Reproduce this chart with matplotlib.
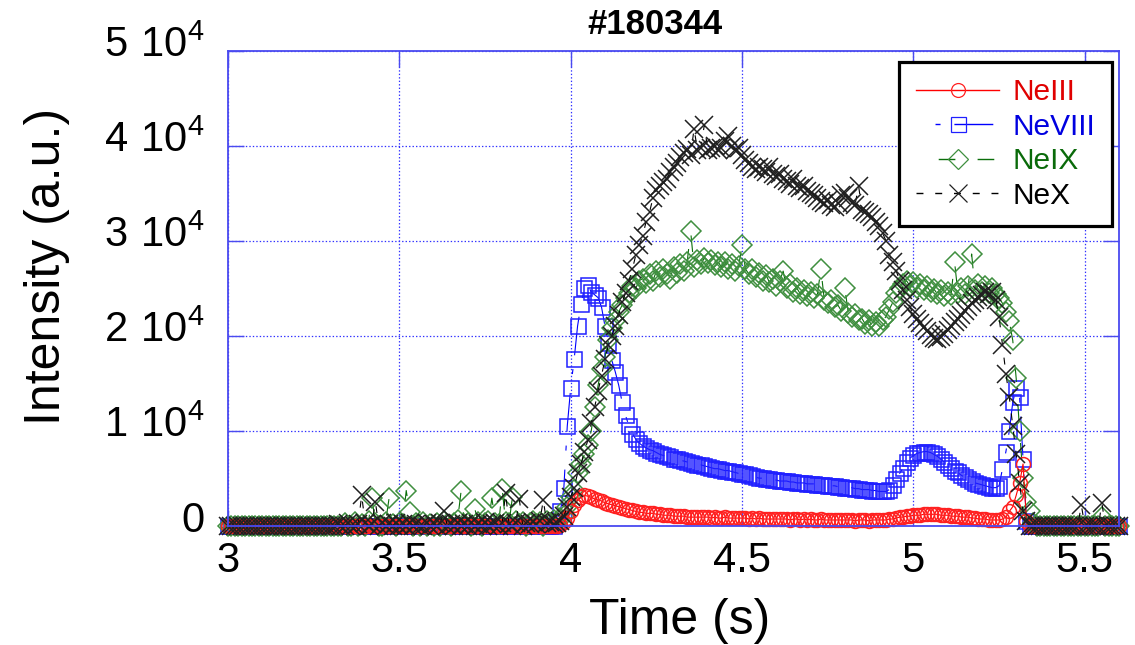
import numpy as np
import matplotlib
matplotlib.use("Agg")
import matplotlib.pyplot as plt
from matplotlib.lines import Line2D
from matplotlib.transforms import ScaledTranslation

plt.rcParams["font.family"] = ["Liberation Sans", "DejaVu Sans"]
plt.rcParams["mathtext.fontset"] = "custom"
plt.rcParams["mathtext.rm"] = "Liberation Sans"
plt.rcParams["lines.scale_dashes"] = False

# sampling: 3.00 s .. 5.60 s, 10 ms
t_start, t_step, n_pts = 3.0, 0.01, 261

# intensities in units of 1e3 a.u., one row per 0.1 s
neIII = [
    0, 0, 0, 0, 0, 0, 0, 0, 0, 0,
    0, 0, 0, 0, 0, 0, 0, 0, 0, 0,
    0, 0, 0, 0, 0, 0, 0, 0, 0, 0,
    0, 0, 0, 0, 0, 0, 0, 0, 0, 0,
    0, 0, 0, 0, 0, 0, 0, 0, 0, 0,
    0, 0, 0, 0, 0, 0, 0, 0, 0, 0,
    0, 0, 0, 0, 0, 0, 0, 0, 0, 0,
    0, 0, 0, 0, 0, 0, 0, 0, 0, 0,
    0, 0, 0, 0, 0, 0, 0, 0, 0, 0,
    0, 0, 0, 0, 0, 0, 0, 0.1, 0.4, 0.8,
    1.5, 2.2, 2.7, 3.0, 3.2, 3.1, 3.0, 2.8, 2.7, 2.6,
    2.4, 2.3, 2.2, 2.1, 2.0, 1.9, 1.8, 1.7, 1.6, 1.5,
    1.4, 1.4, 1.3, 1.3, 1.3, 1.2, 1.2, 1.1, 1.1, 1.1,
    1.0, 1.0, 1.0, 1.0, 0.9, 0.9, 0.9, 0.9, 0.9, 0.9,
    0.9, 0.8, 0.9, 0.8, 0.8, 0.9, 0.8, 0.8, 0.8, 0.8,
    0.8, 0.8, 0.7, 0.8, 0.7, 0.8, 0.7, 0.7, 0.7, 0.7,
    0.7, 0.7, 0.7, 0.7, 0.6, 0.7, 0.7, 0.6, 0.7, 0.6,
    0.7, 0.6, 0.6, 0.7, 0.6, 0.6, 0.6, 0.6, 0.6, 0.6,
    0.6, 0.6, 0.6, 0.5, 0.6, 0.6, 0.6, 0.5, 0.6, 0.6,
    0.6, 0.6, 0.6, 0.7, 0.7, 0.8, 0.9, 0.9, 1.0, 1.0,
    1.1, 1.1, 1.1, 1.2, 1.2, 1.2, 1.2, 1.2, 1.1, 1.1,
    1.1, 1.0, 1.0, 1.0, 0.9, 0.9, 0.9, 0.8, 0.8, 0.7,
    0.7, 0.7, 0.6, 0.6, 0.6, 0.6, 0.7, 0.9, 1.5, 2.0,
    3.2, 4.5, 6.5, 0.5, 0, 0, 0, 0, 0, 0,
    0, 0, 0, 0, 0, 0, 0, 0, 0, 0,
    0, 0, 0, 0, 0, 0, 0, 0, 0, 0,
    0,
]

neVIII = [
    0, 0, 0, 0, 0, 0, 0, 0, 0, 0,
    0, 0, 0, 0, 0, 0, 0, 0, 0, 0,
    0, 0, 0, 0, 0, 0, 0, 0, 0, 0,
    0, 0, 0, 0, 0, 0, 0, 0, 0, 0,
    0, 0, 0, 0, 0, 0, 0, 0, 0, 0,
    0, 0, 0, 0, 0, 0, 0, 0, 0, 0,
    0, 0, 0, 0, 0, 0, 0, 0, 0, 0,
    0, 0, 0, 0, 0, 0, 0, 0, 0, 0,
    0, 0, 0, 0, 0, 0, 0, 0, 0, 0,
    0, 0, 0, 0, 0, 0, 0.3, 1.5, 4.0, 10.5,
    14.5, 17.5, 21.0, 23.3, 25.0, 25.3, 24.6, 24.3, 24.0, 23.0,
    21.0, 19.2, 17.4, 16.2, 14.8, 13.0, 11.6, 10.5, 9.7, 9.1,
    8.7, 8.4, 8.2, 8.0, 7.9, 7.7, 7.5, 7.4, 7.3, 7.2,
    7.0, 7.0, 6.9, 6.8, 6.7, 6.6, 6.5, 6.4, 6.4, 6.3,
    6.2, 6.1, 6.0, 6.0, 5.9, 5.8, 5.8, 5.7, 5.6, 5.5,
    5.4, 5.4, 5.3, 5.2, 5.1, 5.0, 5.0, 4.9, 4.9, 4.8,
    4.8, 4.7, 4.7, 4.7, 4.6, 4.6, 4.5, 4.5, 4.5, 4.4,
    4.4, 4.4, 4.3, 4.3, 4.3, 4.2, 4.2, 4.2, 4.1, 4.1,
    4.0, 4.0, 4.0, 3.9, 3.9, 3.8, 3.8, 3.8, 3.7, 3.7,
    3.6, 3.6, 3.6, 3.8, 4.3, 4.9, 5.5, 6.1, 6.7, 7.1,
    7.4, 7.6, 7.7, 7.8, 7.8, 7.7, 7.5, 7.3, 7.0, 6.7,
    6.4, 6.1, 5.8, 5.6, 5.3, 5.1, 4.9, 4.7, 4.5, 4.4,
    4.3, 4.2, 4.1, 4.0, 4.0, 4.2, 6.0, 7.8, 10.0, 13.0,
    14.5, 13.5, 7.0, 0.5, 0, 0, 0, 0, 0, 0,
    0, 0, 0, 0, 0, 0, 0, 0, 0, 0,
    0, 0, 0, 0, 0, 0, 0, 0, 0, 0,
    0,
]

neIX = [
    0, 0, 0, 0, 0, 0, 0, 0, 0, 0,
    0, 0, 0, 0, 0, 0, 0, 0, 0, 0,
    0, 0, 0, 0, 0, 0, 0, 0, 0, 0,
    0, 0, 0, 0, 0.3, 0, 0, 0.4, 0, 0.2,
    0, 0.5, 2.9, 0.3, 0, 0, 0.4, 2.9, 0.2, 0,
    0.3, 0.2, 3.7, 1.4, 0, 0.3, 0, 0.4, 0, 0.2,
    0, 0.3, 0, 0.5, 0.2, 0, 0.3, 0.6, 3.6, 0.2,
    0.3, 0, 1.8, 0.4, 0, 0.3, 0.5, 2.9, 0.3, 0.2,
    3.9, 0.4, 0.3, 3.0, 0.5, 0.2, 0.4, 0, 0.3, 0.5,
    0.2, 0.4, 0, 0.5, 0.3, 0.6, 0.3, 0.8, 1.0, 2.0,
    3.0, 3.8, 5.5, 6.5, 7.5, 8.5, 10.0, 12.5, 14.8, 16.5,
    17.8, 19.5, 20.8, 21.5, 22.5, 23.2, 24.0, 24.5, 25.2, 25.0,
    25.8, 26.0, 25.5, 26.5, 25.8, 26.8, 26.2, 27.0, 26.5, 26.0,
    27.2, 26.6, 27.5, 26.8, 27.8, 31.0, 27.2, 28.0, 27.5, 28.2,
    27.6, 28.0, 27.4, 27.8, 27.2, 27.8, 27.0, 27.5, 26.8, 27.3,
    29.5, 27.0, 26.5, 27.0, 26.2, 26.6, 25.8, 26.4, 25.6, 26.0,
    25.2, 25.8, 26.8, 25.0, 25.4, 24.6, 25.0, 24.4, 24.8, 24.2,
    24.6, 24.0, 24.4, 27.0, 23.8, 23.4, 23.8, 23.0, 23.2, 22.6,
    25.0, 22.4, 22.0, 22.3, 21.6, 21.8, 21.2, 21.6, 21.0, 21.4,
    21.0, 21.6, 22.0, 22.8, 23.5, 24.5, 25.0, 25.4, 25.8, 25.2,
    25.6, 25.0, 25.4, 24.8, 25.2, 24.6, 24.9, 24.4, 24.8, 24.2,
    24.6, 24.3, 27.8, 24.5, 25.0, 24.4, 25.2, 28.6, 24.8, 25.4,
    24.6, 25.2, 24.5, 25.0, 24.4, 24.0, 23.4, 22.5, 21.5, 19.5,
    15.5, 10.0, 5.0, 2.5, 1.5, 0.3, 0, 0, 0, 0,
    0, 0, 0, 0, 0, 0, 0, 0, 0, 0,
    0, 0, 0, 0, 0, 0.9, 0, 0, 0, 0,
    0,
]

neX = [
    0, 0, 0, 0, 0, 0, 0, 0, 0, 0,
    0, 0, 0, 0, 0, 0, 0, 0, 0, 0,
    0, 0, 0, 0, 0, 0, 0, 0, 0, 0,
    0, 0, 0.2, 0, 0, 0.3, 0, 0, 0.2, 3.2,
    0.3, 0, 0.2, 2.5, 0, 0.3, 0, 0.2, 0, 0.3,
    0, 0.2, 0, 0.3, 0, 0.2, 0, 0, 0.3, 0,
    0.2, 0, 0.3, 1.5, 0, 0.2, 0, 0.3, 0, 0.2,
    0, 0.3, 0, 0.2, 0, 0.4, 0, 0.2, 0.3, 0,
    0.3, 3.4, 0.2, 0, 0.3, 2.8, 0, 0.3, 0.2, 0.4,
    0.2, 0.5, 2.7, 0.3, 0.4, 0.2, 0.3, 0.5, 1.0, 2.0,
    3.0, 4.0, 5.5, 6.5, 7.8, 9.0, 10.8, 12.5, 14.2, 15.8,
    17.5, 19.0, 20.0, 21.0, 22.2, 23.5, 24.5, 25.8, 27.0, 28.5,
    29.5, 30.5, 32.0, 33.0, 34.5, 35.3, 35.8, 36.2, 36.5, 37.2,
    37.8, 38.2, 38.8, 39.2, 39.6, 39.0, 41.8, 39.5, 39.8, 42.2,
    39.5, 39.8, 40.0, 39.5, 39.8, 40.5, 41.0, 40.0, 39.5, 39.8,
    39.0, 38.5, 38.2, 37.8, 37.5, 37.8, 37.5, 37.2, 37.8, 37.0,
    36.8, 37.0, 36.5, 36.3, 36.0, 36.5, 35.8, 35.5, 35.8, 35.2,
    35.0, 34.8, 34.5, 34.2, 34.0, 34.3, 33.8, 33.5, 34.0, 34.8,
    35.0, 34.5, 34.0, 33.8, 35.8, 33.2, 33.0, 32.8, 32.5, 32.0,
    31.5, 30.8, 30.0, 28.5, 27.8, 26.8, 25.8, 24.8, 23.8, 23.0,
    22.3, 21.8, 21.3, 20.9, 20.5, 20.1, 19.8, 19.7, 19.9, 20.2,
    20.6, 21.0, 21.4, 21.8, 22.2, 22.6, 23.0, 23.4, 23.8, 24.1,
    24.3, 24.6, 24.4, 24.6, 23.8, 22.0, 19.0, 16.0, 13.5, 10.5,
    7.5, 4.5, 1.5, 0.5, 0, 0, 0, 0, 0, 0,
    0, 0, 0, 0, 0, 0, 0, 0, 0, 2.2,
    0, 0, 0, 0, 0, 2.4, 0, 0, 0, 0,
    0,
]

x_ticks = [3, 3.5, 4, 4.5, 5, 5.5]
x_labels = ["3", "3.5", "4", "4.5", "5", "5.5"]
y_ticks = [0, 1e4, 2e4, 3e4, 4e4, 5e4]
y_labels = ["0"] + [r"$\mathregular{%d\ 10^{4}}$" % k for k in range(1, 6)]

t = np.round(t_start + t_step * np.arange(n_pts), 2)
scale = 1e3

AXBLUE = "#4a4af0"
styles = {
    # name: (data, line colour, marker, marker size, edge colour, dashes, text colour)
    "NeIII": (neIII, "#ff0000", "o", 10.0, "#ff2020", "-", "#e00000"),
    "NeVIII": (neVIII, "#0000ff", "s", 10.8, "#2020ff", (41.6, (3.6, 10, 28, 13.7)), "#0000e0"),
    "NeIX": (neIX, "#0a6e0a", "D", 10.0, "#3f8f3f", (12, (12, 16)), "#0a6a0a"),
    "NeX": (neX, "#000000", "x", 12.5, "#202020", (0, (5, 8.5)), "#000000"),
}
draw_order = ["NeVIII", "NeIX", "NeIII", "NeX"]
legend_order = ["NeIII", "NeVIII", "NeIX", "NeX"]

fig = plt.figure(figsize=(11.35, 6.45), dpi=100)
ax = fig.add_axes([0.2009, 0.1850, 0.7850, 0.7364])

for name in draw_order:
    vals, lc, mk, ms, mec, ls, _ = styles[name]
    ax.plot(t, np.asarray(vals) * scale, color=lc, lw=0.8, linestyle=ls,
            marker=mk, ms=ms, mfc="none", mec=mec, mew=1.1, clip_on=False)

ax.set_xlim(3, 5.6)
ax.set_ylim(0, 5e4)
ax.set_xticks(x_ticks)
ax.set_xticklabels(x_labels)
ax.set_yticks(y_ticks)
ax.set_yticklabels(y_labels)
ax.tick_params(direction="in", length=11.5, width=1, color=AXBLUE,
               top=True, right=True, labelsize=30)
ax.tick_params(axis="y", pad=17)
ax.tick_params(axis="x", pad=11)
# y labels sit a little above their grid lines in the original
shift = ScaledTranslation(0, 9 / 100, fig.dpi_scale_trans)
for lab in ax.get_yticklabels():
    lab.set_transform(lab.get_transform() + shift)
ax.grid(True, color="#3030ff", lw=0.9, linestyle=(0, (1, 1.5)))
for sp in ax.spines.values():
    sp.set_color(AXBLUE)
    sp.set_linewidth(1.3)

ax.set_xlabel("Time (s)", fontsize=36)
ax.set_ylabel("Intensity (a.u.)", fontsize=36)
ax.xaxis.set_label_coords(0.507, -0.152)
ax.yaxis.set_label_coords(-0.177, 0.545)
fig.text(655 / 1135, 1 - 24 / 645, "#180344", fontsize=25, fontweight="bold",
         ha="center", va="center")

handles = []
for name in legend_order:
    vals, lc, mk, ms, mec, ls, _ = styles[name]
    handles.append(Line2D([], [], color=lc, lw=1.0, linestyle=ls, marker=mk,
                          ms=ms, mfc="none", mec=mec, mew=0.9))
leg = ax.legend(handles, legend_order, loc="upper right",
                bbox_to_anchor=(0.9921, 0.977), borderaxespad=0,
                fontsize=21.5, frameon=True, fancybox=False, framealpha=1,
                edgecolor="black", handlelength=2.8, handletextpad=0.45,
                borderpad=0.55, labelspacing=0.22, numpoints=1)
leg.get_frame().set_linewidth(2.3)
for txt, name in zip(leg.get_texts(), legend_order):
    txt.set_color(styles[name][6])

fig.savefig("out.png", dpi=100)
